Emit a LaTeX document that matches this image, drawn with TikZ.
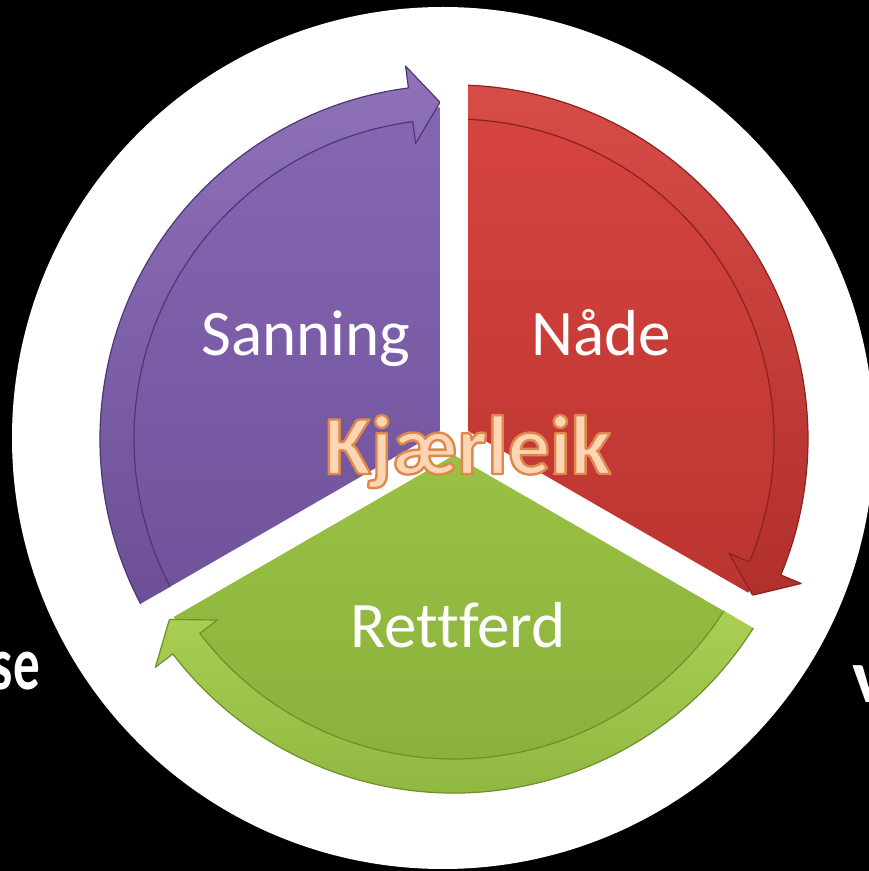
\documentclass[tikz,border=0pt]{standalone}
\usepackage{fontspec}
\setmainfont{Carlito}[Ligatures={NoCommon}]
\definecolor{purpA}{HTML}{8566B3}
\definecolor{purpB}{HTML}{694C93}
\definecolor{purpE}{HTML}{4F3775}
\definecolor{redA}{HTML}{D6443F}
\definecolor{redB}{HTML}{B12F2C}
\definecolor{redE}{HTML}{8A2220}
\definecolor{grnA}{HTML}{AAD34F}
\definecolor{grnB}{HTML}{8AB13B}
\definecolor{grnE}{HTML}{6F902C}
\definecolor{peach}{HTML}{FBD5B4}
\definecolor{peachE}{HTML}{E0874A}
\newcommand\outlinedword[1]{\special{pdf:literal q 2 Tr 2.4 w 1 J 1 j 0.878 0.529 0.290 RG}#1\special{pdf:literal Q}}
\tikzset{
  bandP/.style={draw=purpE, line width=1.2, line join=round, top color=purpA!92!white, bottom color=purpB},
  bandR/.style={draw=redE, line width=1.2, line join=round, top color=redA!95!white, bottom color=redB},
  bandG/.style={draw=grnE, line width=1.2, line join=round, top color=grnA!95!white, bottom color=grnB},
  lbl/.style={text=white, font=\fontsize{65}{70}\selectfont, inner sep=0, anchor=base},
  side/.style={text=white, font=\fontsize{76}{80}\selectfont\bfseries, inner sep=0},
  kjfont/.style={font=\fontsize{84}{90}\selectfont\bfseries, inner sep=0, anchor=base},
}
\begin{document}
\begin{tikzpicture}[x=1pt,y=1pt]
\useasboundingbox (0,0) rectangle (869,871);
\fill[black] (0,0) rectangle (869,871);
\fill[white] (443,433) circle (431);

\coordinate (C) at (454,432);
\path (C) ++(150:16.17) coordinate (Ap);
\path (C) ++(30:16.17) coordinate (Ar);
\path (C) ++(270:16.17) coordinate (Ag);

% purple segment
\begin{scope}
  \clip (Ap) -- +(90:1000) -- +(150:1000) -- +(210:1000) -- cycle;
  \shade[top color=purpA, bottom color=purpB] (C) circle (332);
  \begin{scope}[shift={(C)}]
    \path[bandP] (216:354) arc[start angle=216,end angle=97.4,radius=354]
      -- (97.4:376) -- (92.38:337) -- (97.4:298) -- (97.4:320)
      arc[start angle=97.4,end angle=216,radius=320] -- cycle;
  \end{scope}
\end{scope}

% red segment
\begin{scope}
  \clip (Ar) -- +(90:1000) -- +(30:1000) -- +(-30:1000) -- cycle;
  \shade[top color=redA, bottom color=redB] (C) circle (332);
  \begin{scope}[shift={(C)}]
    \path[bandR] (96:354) arc[start angle=96,end angle=-22.6,radius=354]
      -- (-22.6:376) -- (-27.62:337) -- (-22.6:298) -- (-22.6:320)
      arc[start angle=-22.6,end angle=96,radius=320] -- cycle;
  \end{scope}
\end{scope}

% green segment
\begin{scope}
  \clip (Ag) -- +(210:1000) -- +(270:1000) -- +(330:1000) -- cycle;
  \shade[top color=grnA, bottom color=grnB] (C) circle (332);
  \begin{scope}[shift={(C)}]
    \path[bandG] (336:354) arc[start angle=336,end angle=217.4,radius=354]
      -- (217.4:376) -- (212.38:337) -- (217.4:298) -- (217.4:320)
      arc[start angle=217.4,end angle=336,radius=320] -- cycle;
  \end{scope}
\end{scope}

% labels
\node[lbl] (sanning) at (306,515) {Sanning};
\node[lbl] (naade) at (601,515) {Nåde};
\node[lbl] (rettferd) at (458,223) {Rettferd};

% centre word, filled and outlined
\node[kjfont, text=peach] (kj) at (468,397) {\outlinedword{Kjærleik}};

% side fragments
\node[side, anchor=base east] (se) at (40,181) {\scalebox{0.7}[1]{se}};
\node[side, anchor=base west] (v) at (852,168) {v};
\end{tikzpicture}
\end{document}
